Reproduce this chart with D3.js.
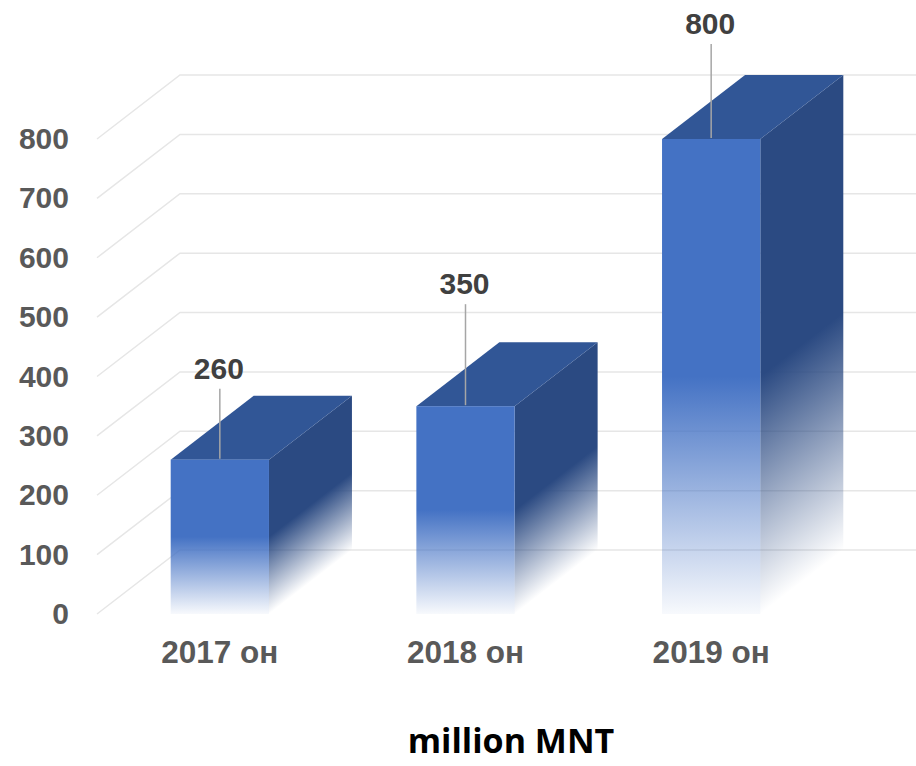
<!DOCTYPE html>
<html>
<head>
<meta charset="utf-8">
<script src="https://cdn.jsdelivr.net/npm/d3@7"></script>
<style>
  html, body { margin: 0; padding: 0; background: #fff; }
  svg { display: block; }
  text { font-family: "Liberation Sans", Arial, sans-serif; font-weight: bold; }
</style>
</head>
<body>
<svg id="chart" width="916" height="766"></svg>
<script>
// data
const categories = ["2017 он", "2018 он", "2019 он"];
const values = [260, 350, 800];
const yTicks = [0, 100, 200, 300, 400, 500, 600, 700, 800];
const unitLabel = "million MNT";
// length of the leader line above each bar (px)
const leaderLen = [71, 102, 95];

function drawChart() {
  const svg = d3.select("#chart");
  svg.selectAll("*").remove();

  const width = +svg.attr("width");
  const depthX = 83, depthY = -64;   // 3d offset, front -> back
  const floorX = 97;                 // front edge of the grid

  const y = d3.scaleLinear().domain([0, 800]).range([614, 139]);
  const x = d3.scaleBand().domain(categories).range([97, 834])
    .paddingInner(0.6).paddingOuter(0.3);

  const defs = svg.append("defs");

  const front = defs.append("linearGradient").attr("id", "gFront")
    .attr("x1", 0).attr("y1", 0).attr("x2", 0).attr("y2", 1);
  front.append("stop").attr("offset", 0).attr("stop-color", "#4472C4").attr("stop-opacity", 1);
  front.append("stop").attr("offset", 0.5).attr("stop-color", "#4472C4").attr("stop-opacity", 1);
  front.append("stop").attr("offset", 1).attr("stop-color", "#4472C4").attr("stop-opacity", 0.04);

  const side = defs.append("linearGradient").attr("id", "gSide")
    .attr("x1", 0).attr("y1", 0).attr("x2", 0).attr("y2", 1);
  side.append("stop").attr("offset", 0).attr("stop-color", "#2B4A82").attr("stop-opacity", 1);
  side.append("stop").attr("offset", 0.5).attr("stop-color", "#2B4A82").attr("stop-opacity", 1);
  side.append("stop").attr("offset", 1).attr("stop-color", "#2B4A82").attr("stop-opacity", 0);

  // grid: slanted floor part then along the back wall
  svg.append("g").selectAll("path").data(yTicks).join("path")
    .attr("d", d => `M${floorX},${y(d)}L${floorX + depthX},${y(d) + depthY}L${width},${y(d) + depthY}`)
    .attr("fill", "none")
    .attr("stroke", "#e6e6e6")
    .attr("stroke-width", 1.5);

  // y axis labels
  const yAxis = svg.append("g").attr("transform", `translate(${floorX},0)`)
    .call(d3.axisLeft(y).tickValues(yTicks).tickSize(0).tickPadding(28));
  yAxis.select(".domain").remove();
  yAxis.selectAll("text")
    .attr("fill", "#595959")
    .style("font-size", "30px")
    .style("font-family", "'Liberation Sans', Arial, sans-serif")
    .style("font-weight", "bold");

  // x axis labels
  const xAxis = svg.append("g").attr("transform", `translate(0,${y(0)})`)
    .call(d3.axisBottom(x).tickSize(0).tickPadding(27));
  xAxis.select(".domain").remove();
  xAxis.selectAll("text")
    .attr("fill", "#595959")
    .style("font-size", "31.5px")
    .style("font-family", "'Liberation Sans', Arial, sans-serif")
    .style("font-weight", "bold");

  const data = categories.map((c, i) => ({ c, v: values[i], lift: leaderLen[i] }));
  const bw = x.bandwidth();
  const skew = depthY / depthX;

  const bars = svg.append("g").selectAll("g").data(data).join("g");

  // side face, skewed so the fade follows the slant
  bars.append("rect")
    .attr("transform", d => `translate(${x(d.c) + bw},0) matrix(1,${skew},0,1,0,0)`)
    .attr("x", 0)
    .attr("width", depthX)
    .attr("y", d => y(d.v))
    .attr("height", d => y(0) - y(d.v))
    .attr("fill", "url(#gSide)");

  // top face
  bars.append("path")
    .attr("d", d => {
      const x0 = x(d.c), yt = y(d.v);
      return `M${x0},${yt}L${x0 + bw},${yt}L${x0 + bw + depthX},${yt + depthY}L${x0 + depthX},${yt + depthY}Z`;
    })
    .attr("fill", "#315696");

  // front face
  bars.append("rect")
    .attr("x", d => x(d.c))
    .attr("width", bw)
    .attr("y", d => y(d.v))
    .attr("height", d => y(0) - y(d.v))
    .attr("fill", "url(#gFront)");

  // leader lines and value labels
  bars.append("line")
    .attr("x1", d => x(d.c) + bw / 2)
    .attr("x2", d => x(d.c) + bw / 2)
    .attr("y1", d => y(d.v) - 1)
    .attr("y2", d => y(d.v) - d.lift)
    .attr("stroke", "#a6a6a6")
    .attr("stroke-width", 1.5);

  bars.append("text")
    .attr("x", d => x(d.c) + bw / 2 - 1)
    .attr("y", d => y(d.v) - d.lift - 10)
    .attr("text-anchor", "middle")
    .attr("fill", "#404040")
    .style("font-size", "30px")
    .text(d => d.v);

  // unit caption
  svg.append("text")
    .attr("x", 511)
    .attr("y", 753)
    .attr("text-anchor", "middle")
    .attr("fill", "#000")
    .style("font-family", "'Open Sans', sans-serif")
    .style("font-size", "34px")
    .text(unitLabel);
}

window.addEventListener("DOMContentLoaded", drawChart);
</script>
</body>
</html>
